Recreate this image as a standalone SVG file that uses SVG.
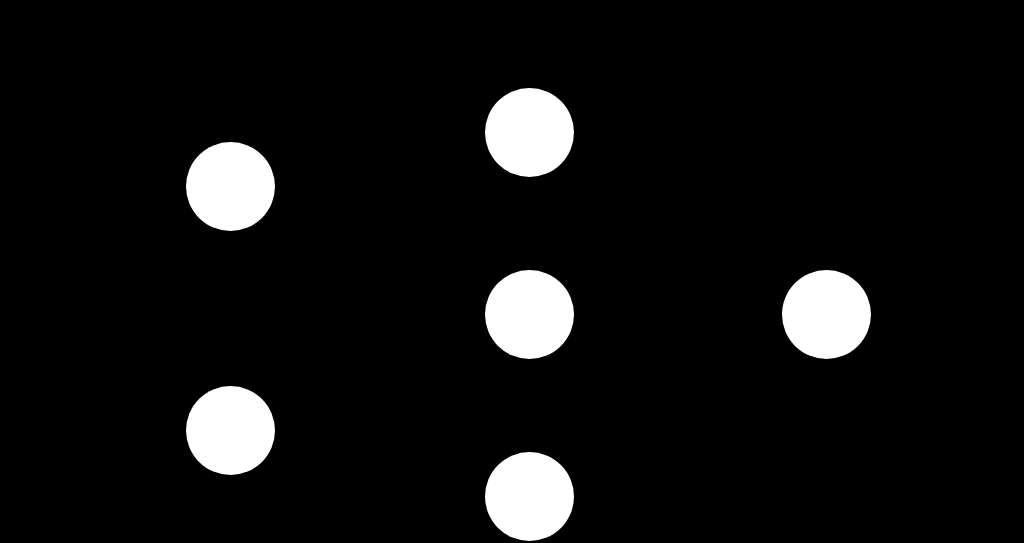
<svg xmlns="http://www.w3.org/2000/svg" width="1024" height="543" viewBox="0 0 1024 543">
  <style>
    .node { fill: #ffffff; stroke: none; }
    .edge { stroke: #000000; stroke-width: 1.5; fill: none; marker-end: url(#arrow); }
  </style>
  <defs>
    <marker id="arrow" viewBox="0 0 10 10" refX="10" refY="5" markerWidth="6" markerHeight="6" orient="auto">
      <path d="M0,0 L10,5 L0,10 z" fill="#000000"/>
    </marker>
  </defs>
  <rect x="0" y="0" width="1024" height="543" fill="#000000"/>
  <g id="connectors">
    <line class="edge" x1="275" y1="186.5" x2="485" y2="132.5"/>
    <line class="edge" x1="275" y1="186.5" x2="485" y2="314.5"/>
    <line class="edge" x1="275" y1="186.5" x2="485" y2="496.5"/>
    <line class="edge" x1="275" y1="430.5" x2="485" y2="132.5"/>
    <line class="edge" x1="275" y1="430.5" x2="485" y2="314.5"/>
    <line class="edge" x1="275" y1="430.5" x2="485" y2="496.5"/>
    <line class="edge" x1="574" y1="132.5" x2="782" y2="314.5"/>
    <line class="edge" x1="574" y1="314.5" x2="782" y2="314.5"/>
    <line class="edge" x1="574" y1="496.5" x2="782" y2="314.5"/>
  </g>
  <g id="input1"><circle class="node" cx="230.5" cy="186.5" r="44.5"/></g>
  <g id="input2"><circle class="node" cx="230.5" cy="430.5" r="44.5"/></g>
  <g id="hidden1"><circle class="node" cx="529.5" cy="132.5" r="44.5"/></g>
  <g id="hidden2"><circle class="node" cx="529.5" cy="314.5" r="44.5"/></g>
  <g id="hidden3"><circle class="node" cx="529.5" cy="496.5" r="44.5"/></g>
  <g id="output"><circle class="node" cx="826.5" cy="314.5" r="44.5"/></g>
</svg>
